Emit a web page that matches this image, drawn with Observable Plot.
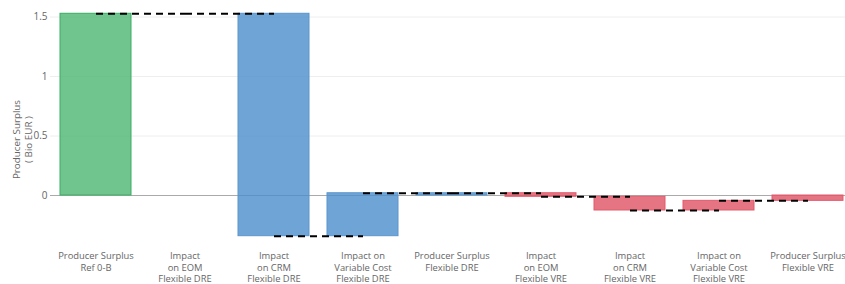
<!DOCTYPE html>
<html><head><meta charset="utf-8">
<script src="https://cdn.jsdelivr.net/npm/d3@7"></script>
<script src="https://cdn.jsdelivr.net/npm/@observablehq/plot@0.6"></script>
<style>body{margin:0;overflow:hidden;background:#fff}</style>
</head><body><div id="chart"></div>
<script>
const categories = [
  "Producer Surplus Ref 0-B",
  "Impact on EOM Flexible DRE",
  "Impact on CRM Flexible DRE",
  "Impact on Variable Cost Flexible DRE",
  "Producer Surplus Flexible DRE",
  "Impact on EOM Flexible VRE",
  "Impact on CRM Flexible VRE",
  "Impact on Variable Cost Flexible VRE",
  "Producer Surplus Flexible VRE"
];
const tickLabels = [
  "Producer Surplus\nRef 0-B",
  "Impact\non EOM\nFlexible DRE",
  "Impact\non CRM\nFlexible DRE",
  "Impact on\nVariable Cost\nFlexible DRE",
  "Producer Surplus\nFlexible DRE",
  "Impact\non EOM\nFlexible VRE",
  "Impact\non CRM\nFlexible VRE",
  "Impact on\nVariable Cost\nFlexible VRE",
  "Producer Surplus\nFlexible VRE"
];
const measures = ["absolute","relative","relative","relative","total","relative","relative","relative","total"];
const values = [1.527, 0, -1.869, 0.361, 0, -0.03, -0.115, 0.081, 0];
const groups = ["Ref","DRE","DRE","DRE","DRE","VRE","VRE","VRE","VRE"];
const yTicks = [0, 0.5, 1, 1.5];
const yTickLabels = ["0", "0.5", "1", "1.5"];
const yTitle = "Producer Surplus\n( Bio EUR )";

const fills = {Ref: "#4cb572", DRE: "#4b8fcc", VRE: "#de5364"};
const strokes = {Ref: "#3aad62", DRE: "#5b95cc", VRE: "#e35a6c"};

let running = 0;
const rows = categories.map((c, i) => {
  let start, end;
  if (measures[i] === "absolute") { start = 0; end = values[i]; }
  else if (measures[i] === "total") { start = 0; end = running; }
  else { start = running; end = running + values[i]; }
  running = end;
  return {cat: c, start, end, group: groups[i]};
});
const conns = rows.slice(0, -1).map((r, i) => ({a: r.cat, b: rows[i + 1].cat, level: r.end}));
const labelMap = new Map(categories.map((c, i) => [c, tickLabels[i]]));
const yLabelMap = new Map(yTicks.map((t, i) => [t, yTickLabels[i]]));

const chart = Plot.plot({
  width: 845, height: 284,
  marginLeft: 50, marginRight: 0, marginTop: 30, marginBottom: 36,
  style: {fontFamily: "'Open Sans', sans-serif", fontSize: "9.4px", color: "#666", background: "#fff", overflow: "hidden"},
  x: {domain: categories, range: [51, 853], paddingInner: 0.2, paddingOuter: 0.1, label: null},
  y: {domain: [0, 1.5], range: [195, 16.5], label: null},
  color: {type: "identity"},
  marks: [
    Plot.gridY(yTicks.slice(1), {stroke: "#eee", strokeOpacity: 1}),
    Plot.ruleY([0], {stroke: "#aaa", strokeWidth: 1}),
    Plot.barY(rows, {x: "cat", y1: "start", y2: "end", fill: d => fills[d.group], fillOpacity: 0.8, stroke: d => strokes[d.group], strokeWidth: 1}),
    Plot.link(conns, {x1: "a", x2: "b", y1: "level", y2: "level", stroke: "#000", strokeWidth: 2, strokeDasharray: "7,5"}),
    Plot.axisY(yTicks, {tickSize: 0, tickPadding: 3, tickFormat: d => yLabelMap.get(d), fontSize: 10, fill: "#666", label: null}),
    Plot.axisX({tickSize: 0, tickPadding: 3, tickFormat: d => labelMap.get(d), fontSize: 9.4, fill: "#666", lineHeight: 1.19, label: null}),
    Plot.text([yTitle], {text: d => d, frameAnchor: "left", textAnchor: "middle", rotate: -90, dx: -28.5, fontSize: 9.8, fill: "#666", lineHeight: 1.3})
  ]
});
document.getElementById("chart").appendChild(chart);
</script>
</body></html>
